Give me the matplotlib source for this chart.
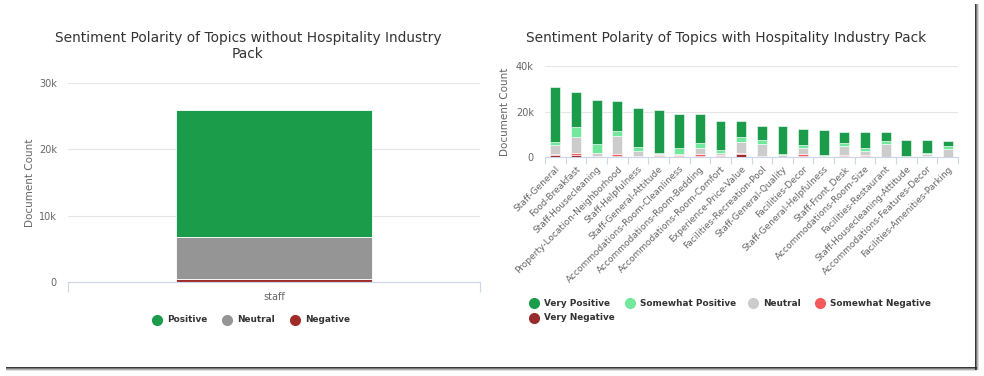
import matplotlib
matplotlib.use("Agg")
import matplotlib.pyplot as plt
from matplotlib.patches import Rectangle
from matplotlib.lines import Line2D
import numpy as np

plt.rcParams['font.family'] = ['DejaVu Sans']

# ---------------- data ----------------
left_title = "Sentiment Polarity of Topics without Hospitality Industry\nPack"
left_categories = ["staff"]
left_series = ["Positive", "Neutral", "Negative"]
left_positive = [19200]
left_neutral = [6300]
left_negative = [450]
left_colors = ["#1a9c4a", "#959595", "#a02b2b"]

right_title = "Sentiment Polarity of Topics with Hospitality Industry Pack"
right_categories = [
    "Staff-General", "Food-Breakfast", "Staff-Housecleaning",
    "Property-Location-Neighborhood", "Staff-Helpfulness", "Staff-General-Attitude",
    "Accommodations-Room-Cleanliness", "Accommodations-Room-Bedding",
    "Accommodations-Room-Comfort", "Experience-Price-Value",
    "Facilities-Recreation-Pool", "Staff-General-Quality", "Facilities-Decor",
    "Staff-General-Helpfulness", "Staff-Front_Desk", "Accommodations-Room-Size",
    "Facilities-Restaurant", "Staff-Housecleaning-Attitude",
    "Accommodations-Features-Decor", "Facilities-Amenities-Parking",
]
right_series = ["Very Positive", "Somewhat Positive", "Neutral",
                "Somewhat Negative", "Very Negative"]
very_negative     = [1200,  800,  200,  600, 200, 500, 500,  700,  500, 1300, 200, 100,  400, 100,  500,  500,  100,    0,  500,  100]
somewhat_negative = [ 400, 1000,  200,  800, 300, 300, 300,  700,  300,  400, 200, 100, 1000, 100,  300,  300,  200,  100,  200,  200]
neutral_r         = [4000, 7000, 1400, 8000, 2400, 500, 800, 2600, 1000, 5000, 5400, 800, 2700, 300, 4100, 1800, 5500,  100,  900, 3500]
somewhat_positive = [1200, 4400, 4000, 2300, 1800, 600, 2400, 2400, 1300, 2100, 1800, 600, 1400, 500, 1400, 1500, 1200,  200,  300, 1300]
very_positive     = [23800, 15200, 19400, 13000, 17100, 18900, 15000, 12600, 12900, 6900, 6300, 12000, 6800, 10900, 5000, 7200, 4000, 7200, 5700, 2200]
right_colors = ["#1a9c4a", "#72e89c", "#cccccc", "#f75a5a", "#972a2a"]

# ---------------- figure ----------------
W, H = 984, 376
fig = plt.figure(figsize=(W / 100, H / 100), dpi=100)
fig.patch.set_facecolor("white")

def px(x, y, w, h):
    return [x / W, 1 - (y + h) / H, w / W, h / H]

# card shadow
for i, a in enumerate([0.9, 0.6, 0.35, 0.15]):
    fig.add_artist(Rectangle(((975 + i) / W, 1 - (370) / H), 1.2 / W, 366 / H,
                             transform=fig.transFigure, color="#222222", alpha=a, lw=0))
    fig.add_artist(Rectangle((6 / W, 1 - (367 + i + 1.2) / H), 971 / W, 1.2 / H,
                             transform=fig.transFigure, color="#222222", alpha=a, lw=0))

text_gray = "#666666"
grid_c = "#e6e6e6"
axis_c = "#ccd6eb"

def style_axes(ax, ymax, step):
    ax.set_ylim(0, ymax)
    ticks = np.arange(0, ymax + 1, step)
    ax.set_yticks(ticks)
    ax.set_yticklabels(["0" if t == 0 else f"{int(t/1000)}k" for t in ticks])
    ax.yaxis.grid(True, color=grid_c, lw=0.8)
    ax.set_axisbelow(True)
    for s in ["top", "right", "left"]:
        ax.spines[s].set_visible(False)
    ax.spines["bottom"].set_color(axis_c)
    ax.spines["bottom"].set_linewidth(0.8)
    ax.tick_params(axis="y", length=0, labelsize=7, labelcolor=text_gray, pad=8)
    ax.set_ylabel("Document Count", fontsize=7.5, color=text_gray)

# ---------------- left chart ----------------
axl = fig.add_axes(px(68, 82.7, 412, 199.3))
xl = np.arange(len(left_categories))
bl = np.zeros(len(left_categories))
# stack from bottom: Negative, Neutral, Positive
stack_l = [(left_negative, left_colors[2]), (left_neutral, left_colors[1]), (left_positive, left_colors[0])]
for vals, col in stack_l:
    axl.bar(xl, vals, bottom=bl, width=0.478, color=col, edgecolor="white", linewidth=0.6)
    bl = bl + np.array(vals)
axl.set_xlim(-0.5, len(left_categories) - 0.5)
style_axes(axl, 30000, 10000)
axl.yaxis.set_label_coords(-0.08, 0.5)
axl.set_xticks(xl)
axl.set_xticklabels(left_categories, fontsize=7, color=text_gray)
axl.set_xticks([-0.5, len(left_categories) - 0.5], minor=True)
axl.tick_params(axis="x", which="major", length=0, pad=7)
axl.tick_params(axis="x", which="minor", length=7, color=axis_c, width=0.8)
fig.text(248 / W, 1 - 46 / H, left_title, ha="center", va="center",
         fontsize=9.9, color="#333333", linespacing=1.2)

# left legend
leg_l_x = [157, 227, 295]
for name, col, x in zip(left_series, left_colors, leg_l_x):
    fig.add_artist(Line2D([x / W], [1 - 320 / H], marker="o", markersize=7,
                          color=col, transform=fig.transFigure, lw=0))
    fig.text((x + 10) / W, 1 - 320 / H, name, ha="left", va="center",
             fontsize=6.4, fontweight="bold", color="#333333")

# ---------------- right chart ----------------
axr = fig.add_axes(px(545, 66, 413, 91.3))
xr = np.arange(len(right_categories))
br = np.zeros(len(right_categories))
stack_r = [very_negative, somewhat_negative, neutral_r, somewhat_positive, very_positive]
for vals, col in zip(stack_r, right_colors[::-1]):
    axr.bar(xr, vals, bottom=br, width=0.48, color=col, edgecolor="white", linewidth=0.4)
    br = br + np.array(vals)
axr.set_xlim(-0.5, len(right_categories) - 0.5)
style_axes(axr, 40000, 20000)
axr.yaxis.set_label_coords(-0.085, 0.5)
axr.set_xticks(xr)
axr.set_xticklabels(right_categories, fontsize=6.5, color=text_gray,
                    rotation=45, ha="right", rotation_mode="anchor")
axr.set_xticks(np.arange(-0.5, len(right_categories)), minor=True)
axr.tick_params(axis="x", which="major", length=0, pad=5)
axr.tick_params(axis="x", which="minor", length=5, color=axis_c, width=0.8)
fig.text(726 / W, 1 - 38 / H, right_title, ha="center", va="center",
         fontsize=9.9, color="#333333")

# right legend
leg_pos = [(534, 303), (630, 303), (753, 303), (820, 303), (534, 318)]
for name, col, (x, y) in zip(right_series, right_colors, leg_pos):
    fig.add_artist(Line2D([x / W], [1 - y / H], marker="o", markersize=7,
                          color=col, transform=fig.transFigure, lw=0))
    fig.text((x + 10) / W, 1 - y / H, name, ha="left", va="center",
             fontsize=6.4, fontweight="bold", color="#333333")

fig.savefig("out.png", dpi=100, facecolor="white")
